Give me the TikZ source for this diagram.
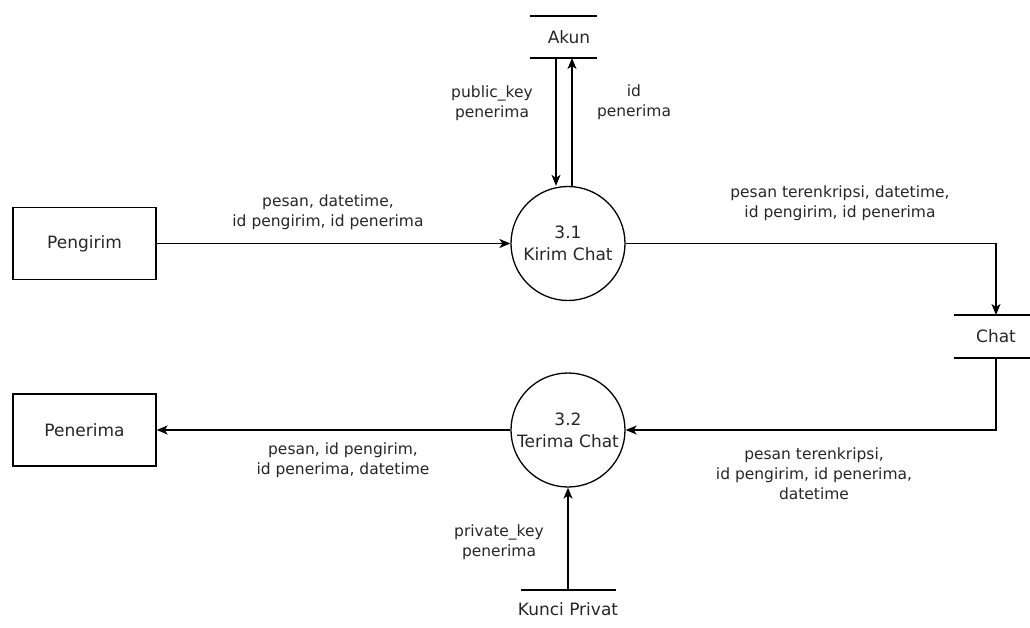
\documentclass[tikz,border=0pt]{standalone}
\usepackage{fontspec}
\setmainfont{DejaVu Sans}
\usetikzlibrary{arrows.meta}
\begin{document}
\begin{tikzpicture}[x=1pt,y=-1pt,
  every node/.style={text=black!85},
  big/.style={font=\fontsize{17}{22}\selectfont},
  entity/.style={big, draw, line width=1.3pt, minimum width=143pt, minimum height=72pt, inner sep=0pt},
  process/.style={big, draw, circle, line width=1.3pt, minimum size=114pt, inner sep=0pt, align=center},
  storeline/.style={line width=1.3pt},
  flow/.style={line width=1.3pt, -{Stealth[length=11pt,width=9pt,inset=3pt]}},
  lbl/.style={font=\fontsize{15.5}{20}\selectfont, align=center, inner sep=0pt}]
\useasboundingbox (0,0) rectangle (1030,628);

% external entities
\node[entity] (pengirim) at (84.5,243.5) {Pengirim};
\node[entity] (penerima) at (84.5,430) {Penerima};

% processes
\node[process] (p31) at (568,243.5) {3.1\\Kirim Chat};
\node[process] (p32) at (568,430) {3.2\\Terima Chat};

% data store: Akun
\draw[storeline] (530,16) -- (597,16);
\draw[storeline] (530,58) -- (597,58);
\node[big] (akun) at (569,37) {Akun};
\coordinate (akunA) at (556,58);
\coordinate (akunB) at (572,58);

% data store: Chat
\draw[storeline] (954,315) -- (1030,315);
\draw[storeline] (954,358) -- (1030,358);
\node[big] (chat) at (996,336) {Chat};
\coordinate (chatT) at (996,315);
\coordinate (chatB) at (996,358);

% data store: Kunci Privat
\draw[storeline] (521,590) -- (616,590);
\node[big] (kunci) at (568,609) {Kunci Privat};
\coordinate (kunciT) at (568,590);

% flows
\draw[flow] (pengirim.east) -- (p31.west);
\draw[flow] (akunA) -- (akunA |- p31.north);
\draw[flow] (572,{243.5-sqrt(57*57-4*4)}) -- (akunB);
\draw[flow] (p31.east) -| (chatT);
\draw[flow] (chatB) |- (p32.east);
\draw[flow] (p32.west) -- (penerima.east);
\draw[flow] (kunciT) -- (p32.south);

% flow labels
\node[lbl] at (328,212) {pesan, datetime,\\id pengirim, id penerima};
\node[lbl] at (492,103) {public\_key\\penerima};
\node[lbl] at (634,102) {id\\penerima};
\node[lbl] at (840,203) {pesan terenkripsi, datetime,\\id pengirim, id penerima};
\node[lbl] at (343,460) {pesan, id pengirim,\\id penerima, datetime};
\node[lbl] at (814,474) {pesan terenkripsi,\\id pengirim, id penerima,\\datetime};
\node[lbl] at (499,542) {private\_key\\penerima};
\end{tikzpicture}
\end{document}
